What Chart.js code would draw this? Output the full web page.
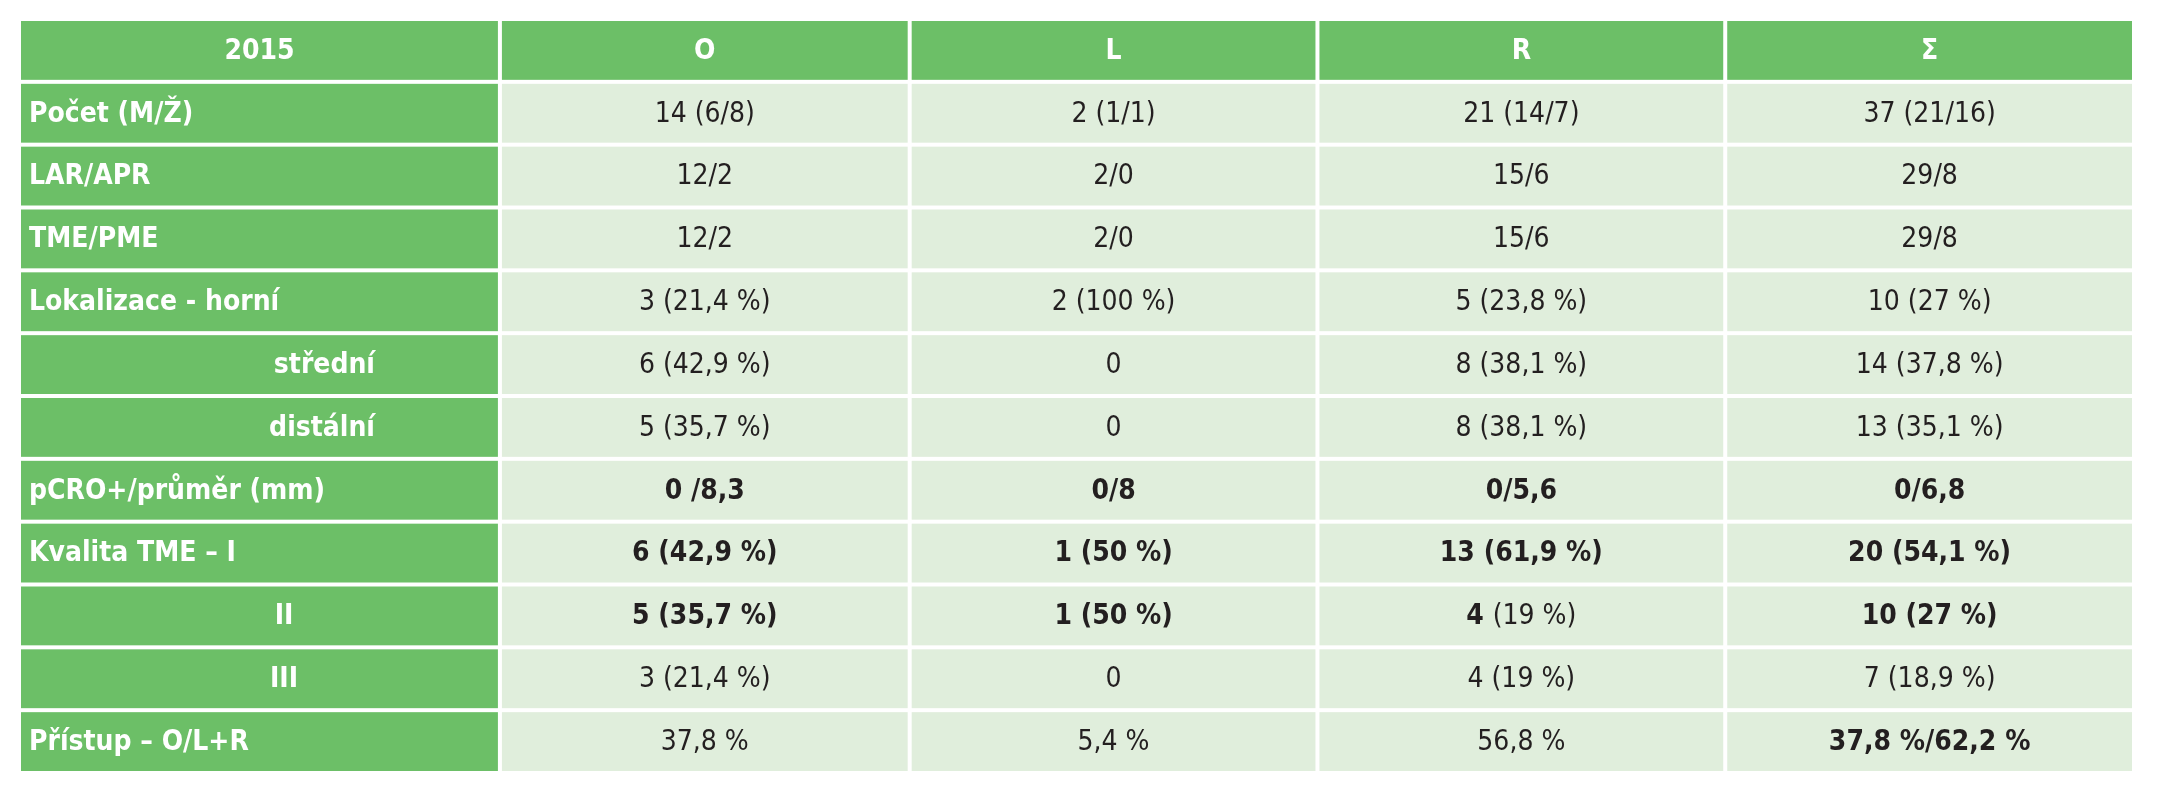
<!DOCTYPE html>
<html><head><meta charset="utf-8">
<script src="https://cdn.jsdelivr.net/npm/chart.js@4"></script>
<style>html,body{margin:0;padding:0;background:#fff}#w{width:2171px;height:800px}</style>
</head><body><div id="w"><canvas id="c"></canvas></div>
<script>
const headerLabels = ["2015", "O", "L", "R", "Σ"];
const rowLabels = ["Počet (M/Ž)", "LAR/APR", "TME/PME", "Lokalizace - horní", "střední", "distální",
  "pCRO+/průměr (mm)", "Kvalita TME – I", "II", "III", "Přístup – O/L+R"];
const colO = ["14 (6/8)", "12/2", "12/2", "3 (21,4 %)", "6 (42,9 %)", "5 (35,7 %)", "0 /8,3", "6 (42,9 %)", "5 (35,7 %)", "3 (21,4 %)", "37,8 %"];
const colL = ["2 (1/1)", "2/0", "2/0", "2 (100 %)", "0", "0", "0/8", "1 (50 %)", "1 (50 %)", "0", "5,4 %"];
const colR = ["21 (14/7)", "15/6", "15/6", "5 (23,8 %)", "8 (38,1 %)", "8 (38,1 %)", "0/5,6", "13 (61,9 %)", "4|(19 %)", "4 (19 %)", "56,8 %"];
const colS = ["37 (21/16)", "29/8", "29/8", "10 (27 %)", "14 (37,8 %)", "13 (35,1 %)", "0/6,8", "20 (54,1 %)", "10 (27 %)", "7 (18,9 %)", "37,8 %/62,2 %"];
const boldRows = [false,false,false,false,false,false,true,true,true,false,false];
const boldLast = [false,false,false,false,false,false,true,true,true,false,true];

const columns = [colO, colL, colR, colS];
const allRows = [headerLabels[0]].concat(rowLabels);
const GREEN = "#6cbf67", LIGHT = "#e0eedc", GAP = 4;
const colWeights = [480, 409, 407, 407, 408];
const indent = {"střední": ["right", 375], "distální": ["right", 375], "II": ["center", 284], "III": ["center", 284]};
const FONT = '"Liberation Sans Narrow", "DejaVu Sans Condensed", sans-serif';
const FS = 28;

const tablePlugin = {
  id: 'table',
  afterDraw(chart) {
    const ctx = chart.ctx, ys = chart.scales.y, xs = chart.scales.x;
    const n = allRows.length;
    const rowH = (ys.bottom - ys.top) / n;
    const tot = colWeights.reduce((a,b)=>a+b,0);
    const edges = [0]; colWeights.forEach(w => edges.push(edges[edges.length-1] + w / tot));
    const px = v => xs.getPixelForValue(v);
    ctx.save();
    ctx.textBaseline = 'middle';
    for (let r = 0; r < n; r++) {
      const cy = ys.getPixelForValue(r);
      const top = cy - rowH/2 + GAP/2, h = rowH - GAP;
      for (let c = 0; c < 5; c++) {
        const x0 = px(edges[c]) + GAP/2, x1 = px(edges[c+1]) - GAP/2;
        const green = r === 0 || c === 0;
        ctx.fillStyle = green ? GREEN : LIGHT;
        ctx.fillRect(x0, top, x1 - x0, h);
        let txt, bold = false, color = "#231f20", align = 'center', tx = (x0 + x1)/2;
        if (r === 0) { txt = headerLabels[c]; bold = true; color = "#fff"; }
        else if (c === 0) {
          txt = rowLabels[r-1]; bold = true; color = "#fff"; align = 'left'; tx = x0 + 8;
          if (indent[txt]) { align = indent[txt][0]; tx = indent[txt][1]; }
        } else {
          txt = columns[c-1][r-1];
          bold = c === 4 ? boldLast[r-1] : boldRows[r-1];
        }
        ctx.fillStyle = color;
        if (txt.includes('|')) {
          const [a, b] = txt.split('|');
          ctx.font = 'bold ' + FS + 'px ' + FONT; const wa = ctx.measureText(a + ' ').width;
          ctx.font = FS + 'px ' + FONT; const wb = ctx.measureText(b).width;
          let sx = tx - (wa + wb)/2;
          ctx.textAlign = 'left';
          ctx.font = 'bold ' + FS + 'px ' + FONT; ctx.fillText(a + ' ', sx, cy + 1);
          ctx.font = FS + 'px ' + FONT; ctx.fillText(b, sx + wa, cy + 1);
        } else {
          ctx.textAlign = align;
          ctx.font = (bold ? 'bold ' : '') + FS + 'px ' + FONT;
          ctx.fillText(txt, tx, cy + 1);
        }
      }
    }
    ctx.restore();
  }
};

new Chart(document.getElementById('c'), {
  type: 'bar',
  data: { labels: allRows, datasets: [] },
  options: {
    responsive: true, maintainAspectRatio: false, animation: false,
    layout: { padding: { left: 19, right: 37, top: 19, bottom: 27 } },
    plugins: { legend: { display: false }, tooltip: { enabled: false } },
    scales: {
      x: { type: 'linear', min: 0, max: 1, offset: false, display: false },
      y: { type: 'category', labels: allRows, offset: true, display: false, grid: { display: false } }
    }
  },
  plugins: [tablePlugin]
});
</script></body></html>
